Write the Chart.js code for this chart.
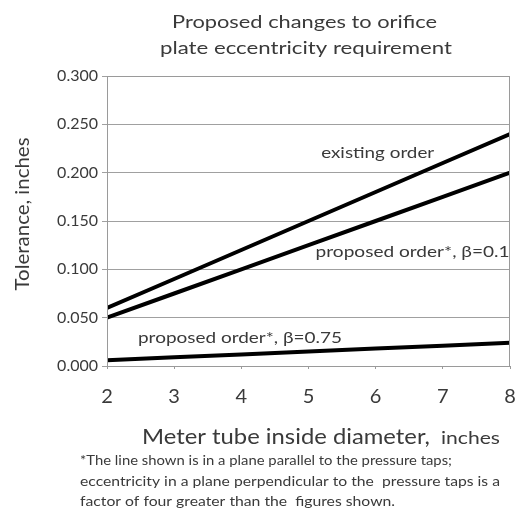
<!DOCTYPE html>
<html lang="en">
<head>
<meta charset="utf-8">
<title>Orifice plate eccentricity</title>
<script src="https://cdn.jsdelivr.net/npm/chart.js"></script>
<style>
  html, body { margin: 0; padding: 0; background: #fff; }
  #wrap { width: 521px; height: 515px; }
</style>
</head>
<body>
<div id="wrap"><canvas id="myChart" width="521" height="515"></canvas></div>
<script>
// meter tube inside diameter, inches
const diameters = [2, 3, 4, 5, 6, 7, 8];
// tolerance, inches
const existingOrder = [0.060, 0.090, 0.120, 0.150, 0.180, 0.210, 0.240];
const proposedBeta01 = [0.050, 0.075, 0.100, 0.125, 0.150, 0.175, 0.200];
const proposedBeta075 = [0.006, 0.009, 0.012, 0.015, 0.018, 0.021, 0.024];
const yTicks = [0, 0.05, 0.1, 0.15, 0.2, 0.25, 0.3];

const seriesNames = ['existing order', 'proposed order*, \u03b2=0.1', 'proposed order*, \u03b2=0.75'];

const fontFam = 'Lato, "Open Sans", sans-serif';
const textColor = '#3a3a3a';

function pts(ys) {
    return diameters.map((d, i) => ({ x: d, y: ys[i] }));
}

// labels next to the lines, placed in data units
const lineLabels = [
    { text: seriesNames[0], x: 6.03, y: 0.220, w: 113 },
    { text: seriesNames[1], x: 6.55, y: 0.118, w: 194 },
    { text: seriesNames[2], x: 3.98, y: 0.029, w: 204 }
];

// draw text stretched to a given width (the original font runs wide)
function fitText(ctx, text, x, y, width, align) {
    const w = ctx.measureText(text).width;
    const sx = width / w;
    ctx.save();
    ctx.textAlign = 'left';
    let left = x;
    if (align === 'center') left = x - width / 2;
    ctx.translate(left, y);
    ctx.scale(sx, 1);
    ctx.fillText(text, 0, 0);
    ctx.restore();
}

const extras = {
    id: 'extras',
    afterDraw(chart) {
        const ctx = chart.ctx;
        const a = chart.chartArea;
        const xs = chart.scales.x, ys = chart.scales.y;
        ctx.save();
        // plot frame
        ctx.strokeStyle = '#9a9a9a';
        ctx.lineWidth = 1;
        ctx.strokeRect(a.left + 0.5, a.top + 0.5, a.right - a.left - 1, a.bottom - a.top);

        ctx.fillStyle = textColor;
        ctx.textBaseline = 'middle';

        // title
        ctx.font = '18px ' + fontFam;
        fitText(ctx, 'Proposed changes to orifice', 172, 22, 265);
        fitText(ctx, 'plate eccentricity requirement', 160, 48, 292);

        // line labels
        ctx.font = '15px ' + fontFam;
        lineLabels.forEach(l => {
            fitText(ctx, l.text, xs.getPixelForValue(l.x), ys.getPixelForValue(l.y), l.w, 'center');
        });

        // x axis title
        ctx.font = '22px ' + fontFam;
        fitText(ctx, 'Meter tube inside diameter,', 142, 437, 288);
        ctx.font = '17px ' + fontFam;
        fitText(ctx, 'inches', 441, 439, 59);

        // y axis title
        ctx.save();
        ctx.translate(23, 214);
        ctx.rotate(-Math.PI / 2);
        ctx.font = '19px ' + fontFam;
        fitText(ctx, 'Tolerance, inches', 0, 0, 153, 'center');
        ctx.restore();

        // footnote
        ctx.font = '13px ' + fontFam;
        fitText(ctx, '*The line shown is in a plane parallel to the pressure taps;', 80, 461, 372);
        fitText(ctx, 'eccentricity in a plane perpendicular to the  pressure taps is a', 80, 482, 420);
        fitText(ctx, 'factor of four greater than the  figures shown.', 80, 502, 315);
        ctx.restore();
    }
};

const lineStyle = {
    borderColor: '#000',
    borderWidth: 4,
    pointRadius: 0,
    fill: false,
    tension: 0
};

new Chart(document.getElementById('myChart'), {
    type: 'line',
    data: {
        datasets: [
            Object.assign({ label: seriesNames[0], data: pts(existingOrder) }, lineStyle),
            Object.assign({ label: seriesNames[1], data: pts(proposedBeta01) }, lineStyle),
            Object.assign({ label: seriesNames[2], data: pts(proposedBeta075) }, lineStyle)
        ]
    },
    options: {
        responsive: false,
        animation: false,
        devicePixelRatio: 1,
        layout: { padding: { left: 0, right: 11, top: 76, bottom: 79 } },
        plugins: {
            legend: { display: false },
            tooltip: { enabled: false },
            title: { display: false }
        },
        scales: {
            x: {
                type: 'linear',
                min: 2,
                max: 8,
                afterBuildTicks(axis) {
                    axis.ticks = diameters.map(v => ({ value: v }));
                },
                afterFit(axis) {
                    axis.height = 70;
                    axis.paddingLeft = 0;
                    axis.paddingRight = 0;
                },
                grid: {
                    drawOnChartArea: false,
                    color: '#9a9a9a',
                    tickLength: 3
                },
                border: { color: '#9a9a9a' },
                ticks: {
                    padding: 16,
                    color: textColor,
                    font: { family: fontFam, size: 20 },
                    maxRotation: 0
                }
            },
            y: {
                min: 0,
                max: 0.3,
                afterBuildTicks(axis) {
                    axis.ticks = yTicks.map(v => ({ value: v }));
                },
                afterFit(axis) {
                    axis.width = 107;
                    axis.paddingTop = 0;
                    axis.paddingBottom = 0;
                },
                grid: {
                    color: '#a0a0a0',
                    tickLength: 5
                },
                border: { color: '#9a9a9a' },
                ticks: {
                    padding: 4,
                    color: textColor,
                    font: { family: fontFam, size: 16 },
                    callback: v => v.toFixed(3)
                }
            }
        }
    },
    plugins: [extras]
});
</script>
</body>
</html>
